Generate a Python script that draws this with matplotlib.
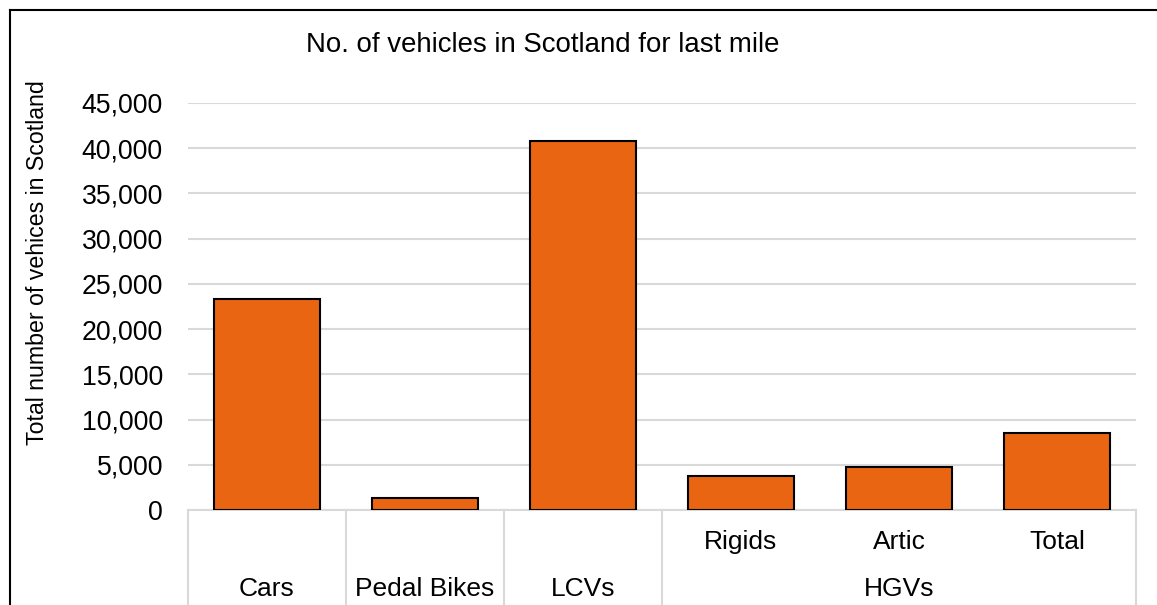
import matplotlib
matplotlib.use("Agg")
import matplotlib.pyplot as plt
from matplotlib.lines import Line2D
from matplotlib.ticker import FuncFormatter, MultipleLocator

plt.rcParams['font.family'] = ['Liberation Sans', 'DejaVu Sans']

# Vehicle counts for last-mile deliveries
categories = ["Cars", "Pedal Bikes", "LCVs", "Rigids", "Artic", "Total"]
values = [23300, 1300, 40850, 3800, 4700, 8500]
groups = [("Cars", 0, 0), ("Pedal Bikes", 1, 1), ("LCVs", 2, 2), ("HGVs", 3, 5)]
sub_labels = {3: "Rigids", 4: "Artic", 5: "Total"}

W, H = 1157, 605
fig = plt.figure(figsize=(W / 100, H / 100), dpi=100)
ax = fig.add_axes([188 / W, 95 / H, (1136 - 188) / W, (510 - 103) / H])

x = list(range(len(categories)))
ax.bar(x, values, width=0.67, color="#E96511", edgecolor="black", linewidth=1.5, zorder=3)

ax.set_xlim(-0.5, len(categories) - 0.5)
ax.set_ylim(0, 45000)
ax.yaxis.set_major_locator(MultipleLocator(5000))
ax.yaxis.set_major_formatter(FuncFormatter(lambda v, p: f"{int(v):,}"))
ax.grid(axis="y", color="#d9d9d9", linewidth=1.5, zorder=0)
ax.tick_params(axis="y", length=0, pad=18, labelsize=19.2)
ax.set_xticks([])
for s in ["top", "right", "left"]:
    ax.spines[s].set_visible(False)
ax.spines["bottom"].set_color("#d9d9d9")
ax.spines["bottom"].set_linewidth(1.5)

# Multi-level category axis drawn below the plot area
trans = ax.get_xaxis_transform()
y_bottom = -0.3
for xb in [-0.5, 0.5, 1.5, 2.5, 5.5]:
    ax.add_line(Line2D([xb, xb], [0, y_bottom], transform=trans, color="#d9d9d9",
                       linewidth=1.5, clip_on=False))

def fig_y(px):
    return (H - px) / H

for i, lab in sub_labels.items():
    fig.text(ax.transData.transform((i, 0))[0] / W, fig_y(542), lab, ha="center", va="center",
             fontsize=19)
for name, a, b in groups:
    cx = (a + b) / 2
    fig.text(ax.transData.transform((cx, 0))[0] / W, fig_y(589), name, ha="center", va="center",
             fontsize=19)

fig.text(543 / W, fig_y(45), "No. of vehicles in Scotland for last mile", ha="center",
         va="center", fontsize=19.9)
fig.text(38 / W, fig_y(263), "Total number of vehices in Scotland", ha="center", va="center",
         rotation=90, fontsize=16.7)

# Chart frame (left and top edges)
fig.add_artist(Line2D([9.5 / W, 9.5 / W], [0, fig_y(10)], transform=fig.transFigure,
                      color="black", linewidth=1.5))
fig.add_artist(Line2D([9.5 / W, 1], [fig_y(10), fig_y(10)], transform=fig.transFigure,
                      color="black", linewidth=1.5))

fig.savefig("out.png", dpi=100)
